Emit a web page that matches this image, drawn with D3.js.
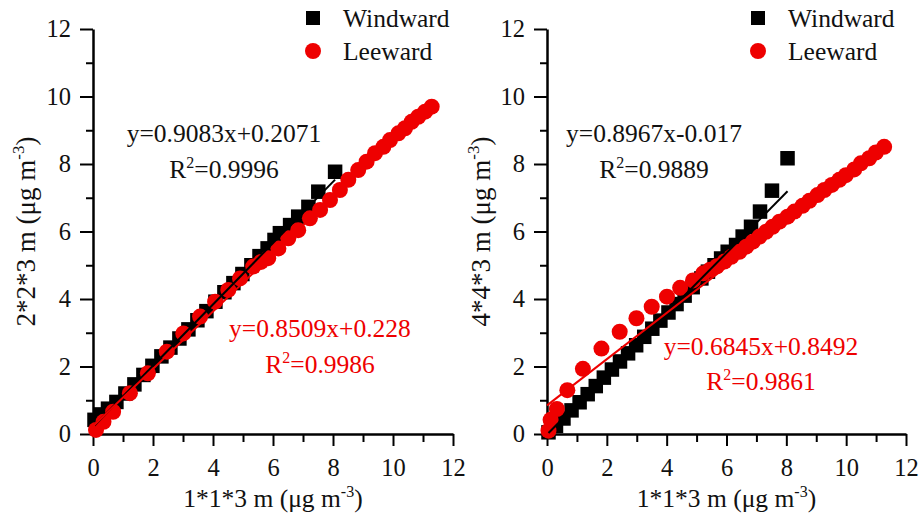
<!DOCTYPE html>
<html lang="en">
<head>
<meta charset="UTF-8">
<title>Windward vs Leeward</title>
<script src="https://d3js.org/d3.v7.min.js"></script>
<style>
  body { margin: 0; background: #fff; }
  svg { display: block; }
</style>
</head>
<body>
<svg id="chart" width="919" height="522"></svg>
<script>
// ---- data ----
const axisTicks = [0, 2, 4, 6, 8, 10, 12];
const minorTicks = [1, 3, 5, 7, 9, 11];
const seriesNames = ["Windward", "Leeward"];
const xTitle = "1*1*3 m (\u03bcg m";
const yTitles = ["2*2*3 m (\u03bcg m", "4*4*3 m (\u03bcg m"];

// left panel: 2*2*3 m vs 1*1*3 m
const leftWindX = [0.05, 0.25, 0.5, 0.78, 1.08, 1.38, 1.68, 1.98, 2.28, 2.58, 2.88, 3.18, 3.48, 3.78, 4.08, 4.38, 4.68, 4.98, 5.28, 5.55, 5.82, 6.05, 6.23, 6.57, 6.84, 7.18, 7.51, 8.07];
const leftWindY = [0.42, 0.58, 0.75, 0.95, 1.2, 1.47, 1.75, 2.02, 2.3, 2.56, 2.83, 3.1, 3.37, 3.64, 3.92, 4.2, 4.47, 4.74, 5.0, 5.27, 5.5, 5.75, 5.95, 6.19, 6.44, 6.73, 7.18, 7.77];
const leftLeeX = [0.1, 0.35, 0.67, 1.23, 1.83, 2.46, 3.01, 3.57, 4.07, 4.51, 4.9, 5.34, 5.6, 5.84, 6.18, 6.51, 6.84, 7.23, 7.57, 7.9, 8.23, 8.51, 8.84, 9.12, 9.4, 9.68, 9.9, 10.18, 10.4, 10.62, 10.84, 11.07, 11.29];
const leftLeeY = [0.12, 0.36, 0.66, 1.21, 1.8, 2.44, 2.98, 3.48, 3.92, 4.27, 4.61, 4.96, 5.1, 5.21, 5.5, 5.8, 6.04, 6.39, 6.64, 6.93, 7.23, 7.53, 7.82, 8.07, 8.32, 8.51, 8.71, 8.91, 9.06, 9.25, 9.4, 9.55, 9.7];

// right panel: 4*4*3 m vs 1*1*3 m
const rightWindX = [0.05, 0.3, 0.55, 0.82, 1.09, 1.36, 1.63, 1.9, 2.17, 2.44, 2.71, 2.98, 3.25, 3.52, 3.79, 4.06, 4.33, 4.6, 4.87, 5.16, 5.38, 5.6, 5.82, 6.04, 6.32, 6.54, 6.82, 7.12, 7.52, 8.04];
const rightWindY = [0.05, 0.24, 0.46, 0.7, 0.94, 1.18, 1.42, 1.67, 1.91, 2.15, 2.39, 2.63, 2.88, 3.12, 3.36, 3.6, 3.85, 4.1, 4.35, 4.61, 4.81, 5.0, 5.2, 5.4, 5.6, 5.85, 6.14, 6.59, 7.21, 8.17];
const rightLeeX = [0.05, 0.12, 0.33, 0.68, 1.2, 1.82, 2.43, 2.99, 3.5, 4.01, 4.45, 4.88, 5.22, 5.45, 5.68, 5.93, 6.16, 6.43, 6.66, 6.88, 7.1, 7.32, 7.54, 7.77, 8.04, 8.27, 8.54, 8.77, 9.04, 9.27, 9.52, 9.77, 9.99, 10.27, 10.49, 10.77, 10.99, 11.27];
const rightLeeY = [0.1, 0.42, 0.74, 1.3, 1.93, 2.53, 3.03, 3.43, 3.77, 4.07, 4.33, 4.55, 4.76, 4.87, 4.97, 5.11, 5.25, 5.4, 5.55, 5.7, 5.85, 5.99, 6.14, 6.29, 6.44, 6.59, 6.76, 6.91, 7.08, 7.23, 7.38, 7.53, 7.67, 7.84, 8.02, 8.17, 8.34, 8.51];

// linear fits per panel: [windward, leeward]
const leftSlopes = [0.9083, 0.8509];
const leftIntercepts = [0.2071, 0.228];
const leftR2 = ["0.9996", "0.9986"];
const leftEqText = ["y=0.9083x+0.2071", "y=0.8509x+0.228"];
const rightSlopes = [0.8967, 0.6845];
const rightIntercepts = [-0.017, 0.8492];
const rightR2 = ["0.9889", "0.9861"];
const rightEqText = ["y=0.8967x-0.017", "y=0.6845x+0.8492"];

// ---- drawing ----
const RED = "#ee0000";
const FONT = "'Liberation Serif'";
const svg = d3.select("#chart");

const panels = [
  {
    x0: 93, x1: 453, yTitle: yTitles[0], yTitleX: 35,
    wind: leftWindX.map((v, i) => [v, leftWindY[i]]),
    lee: leftLeeX.map((v, i) => [v, leftLeeY[i]]),
    slopes: leftSlopes, intercepts: leftIntercepts, r2: leftR2, eq: leftEqText,
    eqPos: [[224, 142, 178], [320, 337, 373]],
    legendX: 313
  },
  {
    x0: 547, x1: 906, yTitle: yTitles[1], yTitleX: 490,
    wind: rightWindX.map((v, i) => [v, rightWindY[i]]),
    lee: rightLeeX.map((v, i) => [v, rightLeeY[i]]),
    slopes: rightSlopes, intercepts: rightIntercepts, r2: rightR2, eq: rightEqText,
    eqPos: [[654, 142, 178], [761, 355, 390]],
    legendX: 758
  }
];

const yTop = 29, yBot = 434;

// text helper with single family set inline
function label(sel, x, y, size, fill) {
  return sel.append("text").attr("x", x).attr("y", y)
    .style("font-family", FONT).style("font-size", size + "px").attr("fill", fill);
}

panels.forEach(p => {
  const x = d3.scaleLinear().domain([0, 12]).range([p.x0, p.x1]);
  const y = d3.scaleLinear().domain([0, 12]).range([yBot, yTop]);
  const g = svg.append("g");

  // minor ticks
  g.append("g").attr("transform", `translate(0,${yBot})`)
    .call(d3.axisBottom(x).tickValues(minorTicks).tickSize(8).tickFormat(""))
    .call(a => a.select(".domain").remove())
    .selectAll("line").attr("stroke-width", 2);
  g.append("g").attr("transform", `translate(${p.x0},0)`)
    .call(d3.axisLeft(y).tickValues(minorTicks).tickSize(7).tickFormat(""))
    .call(a => a.select(".domain").remove())
    .selectAll("line").attr("stroke-width", 2);

  // major axes
  const xa = g.append("g").attr("transform", `translate(0,${yBot})`)
    .call(d3.axisBottom(x).tickValues(axisTicks).tickSize(12).tickSizeOuter(0).tickPadding(13));
  const ya = g.append("g").attr("transform", `translate(${p.x0},0)`)
    .call(d3.axisLeft(y).tickValues(axisTicks).tickSize(13).tickSizeOuter(0).tickPadding(9));
  [xa, ya].forEach(a => {
    a.attr("font-family", null).attr("font-size", null);
    a.select(".domain").attr("stroke-width", 2.5);
    a.selectAll(".tick line").attr("stroke-width", 2);
    a.selectAll(".tick text")
      .style("font-family", FONT).style("font-size", "24.5px").attr("fill", "#111");
  });

  // points
  const sq = 14.5;
  g.append("g").selectAll("rect").data(p.wind).join("rect")
    .attr("x", d => x(d[0]) - sq / 2).attr("y", d => y(d[1]) - sq / 2)
    .attr("width", sq).attr("height", sq).attr("fill", "#000");
  g.append("g").selectAll("circle").data(p.lee).join("circle")
    .attr("cx", d => x(d[0])).attr("cy", d => y(d[1]))
    .attr("r", 8).attr("fill", RED);

  // fit lines
  [p.wind, p.lee].forEach((pts, i) => {
    const ext = d3.extent(pts, d => d[0]);
    const xs = i === 0 ? ext : [0, ext[1]];
    g.append("line")
      .attr("x1", x(xs[0])).attr("y1", y(p.slopes[i] * xs[0] + p.intercepts[i]))
      .attr("x2", x(xs[1])).attr("y2", y(p.slopes[i] * xs[1] + p.intercepts[i]))
      .attr("stroke", i === 0 ? "#000" : RED).attr("stroke-width", 2);
  });

  // equations
  p.eqPos.forEach((pos, i) => {
    const col = i === 0 ? "#111" : RED;
    label(g, pos[0], pos[1], 25.5, col).attr("text-anchor", "middle").text(p.eq[i]);
    const t = label(g, pos[0], pos[2], 25.5, col).attr("text-anchor", "middle");
    t.append("tspan").text("R");
    t.append("tspan").style("font-size", "16px").attr("dy", -10).text("2");
    t.append("tspan").attr("dy", 10).text("=" + p.r2[i]);
  });

  // axis titles
  const xt = label(g, (p.x0 + p.x1) / 2, 507, 25.5, "#111").attr("text-anchor", "middle");
  xt.append("tspan").text(xTitle);
  xt.append("tspan").style("font-size", "16px").attr("dy", -10).text("-3");
  xt.append("tspan").attr("dy", 10).text(")");

  const yt = label(g, 0, 0, 27, "#111")
    .attr("transform", `translate(${p.yTitleX},${(yTop + yBot) / 2}) rotate(-90)`)
    .attr("text-anchor", "middle");
  yt.append("tspan").text(p.yTitle);
  yt.append("tspan").style("font-size", "17px").attr("dy", -11).text("-3");
  yt.append("tspan").attr("dy", 11).text(")");

  // legend
  const lg = g.append("g");
  lg.append("rect").attr("x", p.legendX - 7).attr("y", 18 - 7)
    .attr("width", 14).attr("height", 14).attr("fill", "#000");
  lg.append("circle").attr("cx", p.legendX).attr("cy", 51).attr("r", 8).attr("fill", RED);
  label(lg, p.legendX + 30, 27, 25.5, "#111").text(seriesNames[0]);
  label(lg, p.legendX + 30, 60, 25.5, "#111").text(seriesNames[1]);
});
</script>
</body>
</html>
